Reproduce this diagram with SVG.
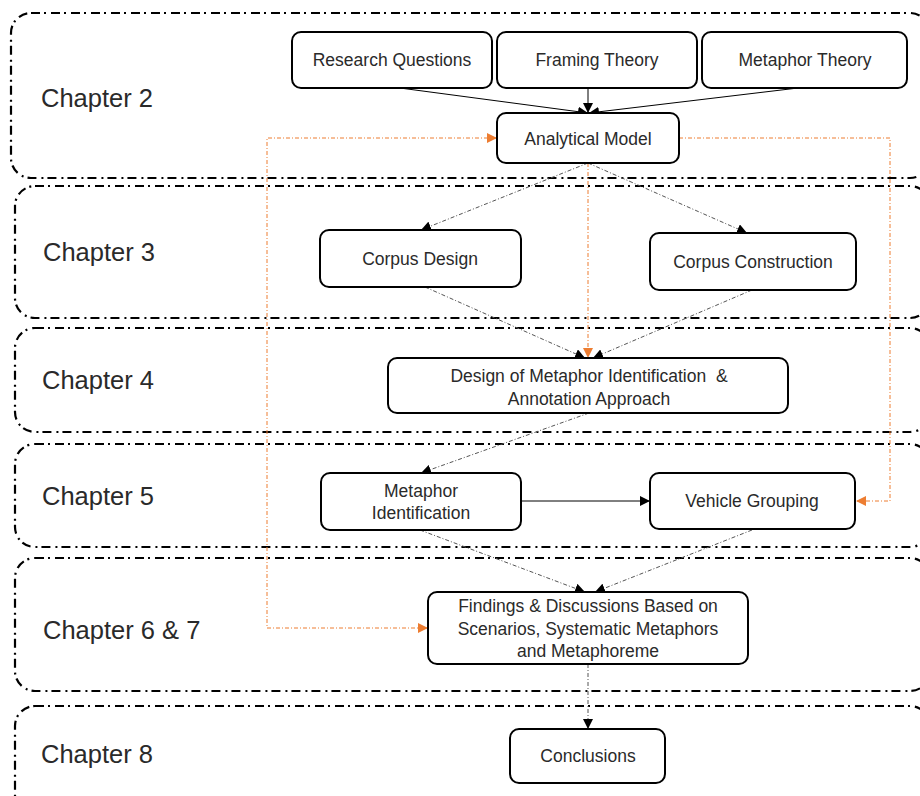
<svg xmlns="http://www.w3.org/2000/svg" width="920" height="796" viewBox="0 0 920 796">
<style>
.panel{fill:none;stroke:#000;stroke-width:2.2;stroke-dasharray:9 4 2 5}
.node rect{fill:#fff;stroke:#000;stroke-width:2}
text{font-family:"Liberation Sans",Arial,sans-serif;fill:#2a2a2a}
.ch{font-size:25.5px}
.nt{font-size:17.5px;text-anchor:middle}
.solid{fill:none;stroke:#000;stroke-width:1}
.gray{fill:none;stroke:#555;stroke-width:1;stroke-dasharray:4 2 1 2}
.orange{fill:none;stroke:#ED7D31;stroke-width:1;stroke-dasharray:4 2 1 2}
</style>
<defs>
<marker id="ab" viewBox="0 0 10 10" refX="10" refY="5" markerWidth="10" markerHeight="10" markerUnits="userSpaceOnUse" orient="auto"><path d="M0,0 L10,5 L0,10 Z" fill="#000"/></marker>
<marker id="ao" viewBox="0 0 10 10" refX="10" refY="5" markerWidth="10" markerHeight="10" markerUnits="userSpaceOnUse" orient="auto"><path d="M0,0 L10,5 L0,10 Z" fill="#ED7D31"/></marker>
<marker id="aos" viewBox="0 0 10 10" refX="10" refY="5" markerWidth="10" markerHeight="10" markerUnits="userSpaceOnUse" orient="auto-start-reverse"><path d="M0,0 L10,5 L0,10 Z" fill="#ED7D31"/></marker>
</defs>
<g id="panels">
<rect class="panel" x="11" y="13" width="919" height="165" rx="20"/>
<rect class="panel" x="15" y="186" width="915" height="132" rx="20"/>
<rect class="panel" x="15" y="328" width="915" height="104" rx="20"/>
<rect class="panel" x="15" y="444" width="915" height="103" rx="20"/>
<rect class="panel" x="15" y="558" width="915" height="133" rx="20"/>
<rect class="panel" x="15" y="706" width="915" height="110" rx="20"/>
<text class="ch" x="41" y="107">Chapter 2</text>
<text class="ch" x="43" y="261">Chapter 3</text>
<text class="ch" x="42" y="389">Chapter 4</text>
<text class="ch" x="42" y="505">Chapter 5</text>
<text class="ch" x="43" y="639">Chapter 6 &amp; 7</text>
<text class="ch" x="41" y="763">Chapter 8</text>
</g>
<g id="connectors">
<path class="solid" d="M400,88 L588,113" marker-end="url(#ab)"/>
<path class="solid" d="M588,88 L588,113" marker-end="url(#ab)"/>
<path class="solid" d="M798,88 L589,113" marker-end="url(#ab)"/>
<path class="gray" d="M588,163 L421,230" marker-end="url(#ab)"/>
<path class="gray" d="M588,163 L747,233" marker-end="url(#ab)"/>
<path class="gray" d="M425,287 L585,358" marker-end="url(#ab)"/>
<path class="gray" d="M752,290 L593,358" marker-end="url(#ab)"/>
<path class="orange" d="M588,163 L588,358" marker-end="url(#ao)"/>
<path class="gray" d="M589,413 L421,473" marker-end="url(#ab)"/>
<path class="solid" d="M522,501 L650,501" marker-end="url(#ab)"/>
<path class="orange" d="M679,138 H890 V501 H856" marker-end="url(#ao)"/>
<path class="orange" d="M497,138 H267 V628 H428" marker-start="url(#aos)" marker-end="url(#ao)"/>
<path class="gray" d="M420,530 L585,592" marker-end="url(#ab)"/>
<path class="gray" d="M752,530 L595,592" marker-end="url(#ab)"/>
<path class="gray" d="M588,664 L588,729" marker-end="url(#ab)"/>
</g>
<g id="n-rq" class="node"><rect x="292" y="32" width="200" height="56" rx="9"/><text class="nt" x="392" y="66">Research Questions</text></g>
<g id="n-ft" class="node"><rect x="497" y="32" width="200" height="56" rx="9"/><text class="nt" x="597" y="66">Framing Theory</text></g>
<g id="n-mt" class="node"><rect x="702" y="32" width="205" height="56" rx="9"/><text class="nt" x="805" y="66">Metaphor Theory</text></g>
<g id="n-am" class="node"><rect x="497" y="113" width="182" height="50" rx="9"/><text class="nt" x="588" y="145">Analytical Model</text></g>
<g id="n-cd" class="node"><rect x="320" y="230" width="201" height="57" rx="9"/><text class="nt" x="420" y="265">Corpus Design</text></g>
<g id="n-cc" class="node"><rect x="650" y="233" width="206" height="57" rx="9"/><text class="nt" x="753" y="268">Corpus Construction</text></g>
<g id="n-dm" class="node"><rect x="388" y="358" width="400" height="55" rx="9"/><text class="nt" x="589" y="382" style="white-space:pre">Design of Metaphor Identification  &amp;</text><text class="nt" x="589" y="405">Annotation Approach</text></g>
<g id="n-mi" class="node"><rect x="321" y="473" width="200" height="57" rx="9"/><text class="nt" x="421" y="497">Metaphor</text><text class="nt" x="421" y="519">Identification</text></g>
<g id="n-vg" class="node"><rect x="650" y="473" width="205" height="56" rx="9"/><text class="nt" x="752" y="507">Vehicle Grouping</text></g>
<g id="n-fd" class="node"><rect x="428" y="592" width="320" height="72" rx="9"/><text class="nt" x="588" y="612">Findings &amp; Discussions Based on</text><text class="nt" x="588" y="635">Scenarios, Systematic Metaphors</text><text class="nt" x="588" y="657">and Metaphoreme</text></g>
<g id="n-cl" class="node"><rect x="510" y="729" width="155" height="54" rx="9"/><text class="nt" x="588" y="762">Conclusions</text></g>
</svg>
